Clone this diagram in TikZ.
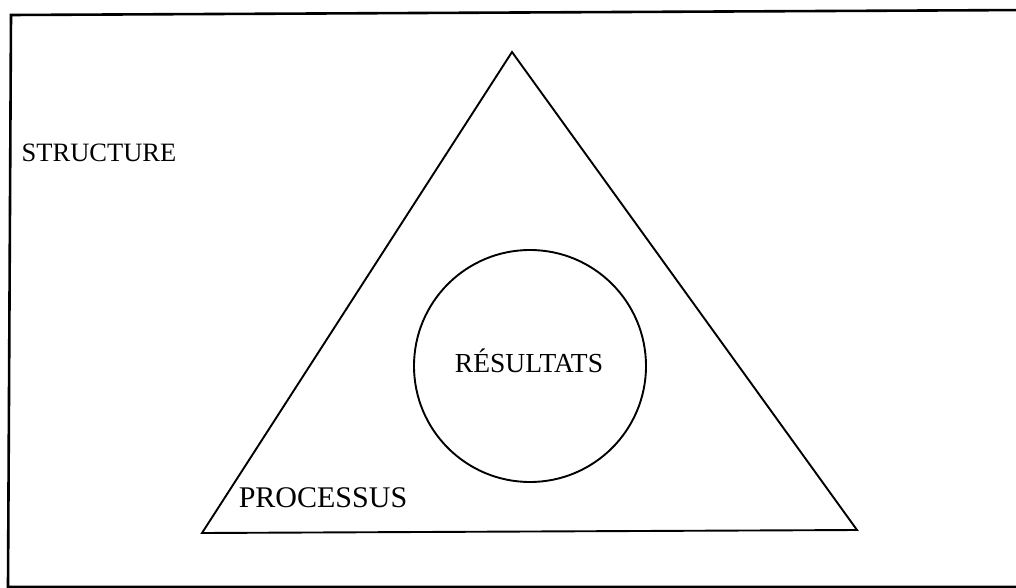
\documentclass[tikz,border=0pt]{standalone}
\usepackage{fontspec}
\setmainfont{Liberation Serif}
\usetikzlibrary{positioning}

\begin{document}
\begin{tikzpicture}[x=1pt, y=-1pt,
        every node/.style={font=\fontsize{27.5}{30}\selectfont, inner sep=0pt, anchor=base},
        frameline/.style={line width=2.6pt},
        shapeline/.style={line width=1.9pt}]
        \useasboundingbox (0,0) rectangle (1016,588);
        % cadre
        \draw[frameline] (1030,10) -- (11,15) -- (8,587) -- (1030,587);
        % triangle
        \coordinate (apex) at (512,52);
        \coordinate (left) at (202,533);
        \coordinate (right) at (857,530);
        \draw[shapeline, line join=miter] (apex) -- (left) -- (right) -- cycle;
        % cercle
        \node[draw, circle, shapeline, minimum size=232pt, anchor=center] (circ) at (530,366) {};
        \node (res) at (529,372) {RÉSULTATS};
        \node[font=\fontsize{26.5}{30}\selectfont] (struct) at (99,162) {STRUCTURE};
        \node[font=\fontsize{30}{32}\selectfont] (proc) at (323,507) {PROCESSUS};
    \end{tikzpicture}
\end{document}
